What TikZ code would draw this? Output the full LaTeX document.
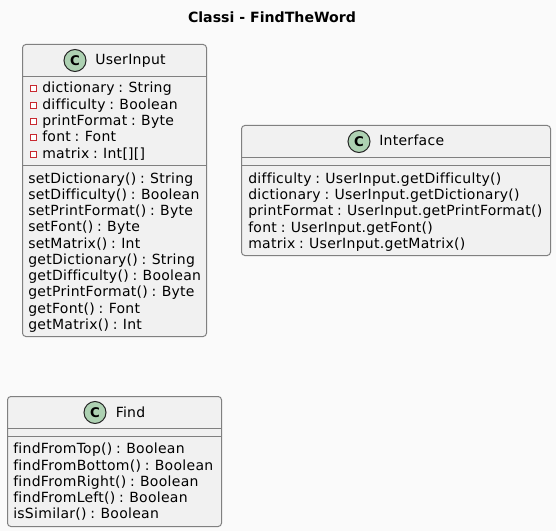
\documentclass[tikz,border=0pt]{standalone}
\usepackage{fontspec}
\setmainfont{DejaVu Sans}
\newfontfamily\rowfont[LetterSpace=2,WordSpace=.8,Ligatures=NoCommon]{DejaVu Sans}
\definecolor{pagebg}{HTML}{FAFAFA}
\definecolor{boxfill}{HTML}{F1F1F1}
\definecolor{boxline}{HTML}{808080}
\definecolor{spotfill}{HTML}{ADD1B2}
\definecolor{privred}{HTML}{C82930}
\tikzset{
  classbox/.style={draw=boxline,fill=boxfill,line width=.75pt,rounded corners=2.5pt},
  sepline/.style={draw=boxline,line width=.75pt},
  row/.style={anchor=base west,inner sep=0pt,font=\fontsize{10.5pt}{12pt}\rowfont,text=black},
  spot/.style={circle,draw=black!85,fill=spotfill,line width=.75pt,minimum size=16.5pt,inner sep=0pt,font=\fontsize{10pt}{12pt}\selectfont\bfseries},
  privmark/.style={draw=privred,fill=white,line width=.75pt,minimum size=4.5pt,inner sep=0pt}
}
\begin{document}
\begin{tikzpicture}[x=.75pt,y=-.75pt]
  \path[use as bounding box,fill=pagebg] (0,0) rectangle (556,531);
  \node[anchor=base,inner sep=0pt,font=\fontsize{10.6pt}{12pt}\selectfont\bfseries] (title) at (272,23) {Classi - FindTheWord};
  % UserInput
  \draw[classbox] (22.5,44.5) rectangle (206.5,336.5);
  \draw[sepline] (22.5,76.5) -- (206.5,76.5);
  \draw[sepline] (22.5,165.5) -- (206.5,165.5);
  \node[spot] (userspot) at (75,60.5) {C};
  \node[row] (userhead) at (95,65) {UserInput};
  \foreach \y/\t [count=\i] in {93/dictionary : String,109.5/difficulty : Boolean,125.5/printFormat : Byte,141.5/font : Font,158/matrix : Int[][]}{
    \node[row] (userattr\i) at (42,\y) {\t};
    \node[privmark] (usermark\i) at (33,\y-4) {};
  }
  \foreach \y/\t [count=\i] in {183/setDictionary() : String,199/setDifficulty() : Boolean,215.5/setPrintFormat() : Byte,231.5/setFont() : Byte,248/setMatrix() : Int,264/getDictionary() : String,280.5/getDifficulty() : Boolean,296.5/getPrintFormat() : Byte,313/getFont() : Font,329/getMatrix() : Int}{
    \node[row] (usermeth\i) at (28,\y) {\t};
  }
  % Interface
  \draw[classbox] (241.5,125.5) rectangle (550.5,255.5);
  \draw[sepline] (241.5,157.5) -- (550.5,157.5);
  \draw[sepline] (241.5,165.5) -- (550.5,165.5);
  \node[spot] (facespot) at (359,141.5) {C};
  \node[row] (facehead) at (379,146) {Interface};
  \foreach \y/\t [count=\i] in {183/difficulty : UserInput.getDifficulty(),199.5/dictionary : UserInput.getDictionary(),215.5/printFormat : UserInput.getPrintFormat(),232/font : UserInput.getFont(),248/matrix : UserInput.getMatrix()}{
    \node[row] (facerow\i) at (248,\y) {\t};
  }
  % Find
  \draw[classbox] (7.5,396.5) rectangle (221.5,526.5);
  \draw[sepline] (7.5,428.5) -- (221.5,428.5);
  \draw[sepline] (7.5,436.5) -- (221.5,436.5);
  \node[spot] (findspot) at (95,412.5) {C};
  \node[row] (findhead) at (115.5,417) {Find};
  \foreach \y/\t [count=\i] in {453.5/findFromTop() : Boolean,470/findFromBottom() : Boolean,486/findFromRight() : Boolean,502/findFromLeft() : Boolean,518/isSimilar() : Boolean}{
    \node[row] (findrow\i) at (13,\y) {\t};
  }
\end{tikzpicture}
\end{document}
